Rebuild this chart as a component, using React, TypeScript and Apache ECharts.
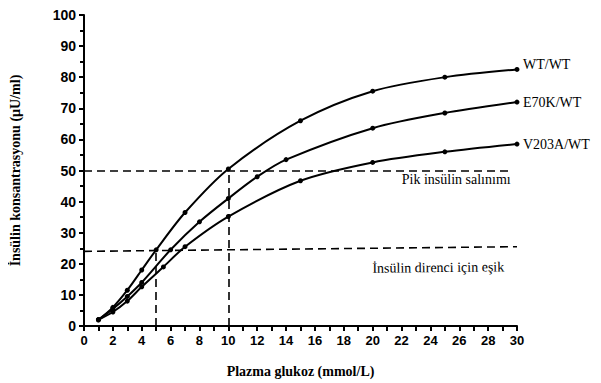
import React, { useEffect, useRef } from "react";
import * as echarts from "echarts";

const seriesNames = ["WT/WT", "E70K/WT", "V203A/WT"];
const wtX = [1, 2, 3, 4, 5, 7, 10, 15, 20, 25, 30];
const wtY = [2, 6, 11.5, 18, 24.5, 36.5, 50.5, 66, 75.5, 80, 82.5];
const e70X = [1, 2, 3, 4, 6, 8, 10, 12, 14, 20, 25, 30];
const e70Y = [2, 5.5, 9.5, 14, 24.5, 33.5, 41, 48, 53.5, 63.6, 68.5, 72];
const v203X = [1, 2, 3, 4, 5.5, 7, 10, 15, 20, 25, 30];
const v203Y = [2, 4.5, 8, 12.6, 19, 25.5, 35.2, 46.7, 52.6, 56, 58.5];

const peakLevel = 50;
const thresholdStart = 24;
const thresholdEnd = 25.5;
const peakGlucose = 10;
const thresholdGlucose = 5;
const xMax = 30;
const peakLabel = "Pik insülin salınımı";
const thresholdLabel = "İnsülin direnci için eşik";

const zip = (xs: number[], ys: number[]) => xs.map((x, i) => [x, ys[i]]);

export default function App() {
  const ref = useRef<HTMLDivElement>(null);
  useEffect(() => {
    if (!ref.current) return;
    const chart = echarts.init(ref.current, null, { renderer: "svg" });
    const serif = "'Liberation Serif', 'Times New Roman', serif";
    const sans = "'Liberation Sans', Arial, sans-serif";
    const datasets = [zip(wtX, wtY), zip(e70X, e70Y), zip(v203X, v203Y)];
    const endOffsets = [[0, -5], [0, 0], [0, 0]];
    const dash = { color: "#000", width: 1.6, type: [8, 5] as any };
    chart.setOption({
      animation: false,
      backgroundColor: "#fff",
      grid: { left: 82, right: 84, top: 15, bottom: 57 },
      xAxis: {
        type: "value",
        min: 0,
        max: xMax,
        interval: 2,
        name: "Plazma glukoz (mmol/L)",
        nameLocation: "middle",
        nameGap: 38,
        nameTextStyle: { fontFamily: serif, fontWeight: "bold", fontSize: 14, color: "#000" },
        axisLine: { lineStyle: { color: "#000", width: 2 } },
        axisTick: { show: true, length: 5, lineStyle: { color: "#000", width: 2 } },
        minorTick: { show: true, splitNumber: 2, length: 5, lineStyle: { color: "#000", width: 2 } },
        splitLine: { show: false },
        axisLabel: { fontFamily: sans, fontWeight: "bold", fontSize: 13, color: "#000", margin: 8 },
      },
      yAxis: {
        type: "value",
        min: 0,
        max: 100,
        interval: 10,
        name: "İnsülin konsantrasyonu (µU/ml)",
        nameLocation: "middle",
        nameGap: 62,
        nameTextStyle: { fontFamily: serif, fontWeight: "bold", fontSize: 14, color: "#000" },
        axisLine: { show: true, lineStyle: { color: "#000", width: 2 } },
        axisTick: { show: true, length: 5, lineStyle: { color: "#000", width: 2 } },
        minorTick: { show: true, splitNumber: 2, length: 4, lineStyle: { color: "#000", width: 2 } },
        splitLine: { show: false },
        axisLabel: { fontFamily: sans, fontWeight: "bold", fontSize: 14, color: "#000", margin: 8 },
      },
      series: [
        ...seriesNames.map((name, i) => ({
          name,
          type: "line",
          data: datasets[i],
          smooth: 0.3,
          symbol: "circle",
          symbolSize: 5,
          itemStyle: { color: "#000" },
          lineStyle: { color: "#000", width: 2 },
          endLabel: {
            show: true,
            formatter: "{a}",
            fontFamily: serif,
            fontSize: 14,
            color: "#000",
            distance: 6,
            offset: endOffsets[i],
          },
          z: 3,
        })),
        {
          name: "refs",
          type: "line",
          data: [],
          markLine: {
            silent: true,
            symbol: "none",
            lineStyle: dash,
            data: [
              [
                {
                  coord: [0, peakLevel],
                  label: {
                    show: true,
                    formatter: peakLabel,
                    position: "insideEndBottom",
                    distance: 2,
                    fontFamily: serif,
                    fontSize: 14,
                    color: "#000",
                  },
                },
                { coord: [xMax - 0.3, peakLevel] },
              ],
              [
                {
                  coord: [0, thresholdStart],
                  label: {
                    show: true,
                    formatter: thresholdLabel,
                    position: "insideEndBottom",
                    distance: 13,
                    fontFamily: serif,
                    fontSize: 14,
                    color: "#000",
                  },
                },
                { coord: [xMax, thresholdEnd] },
              ],
              [
                { coord: [thresholdGlucose, 0], label: { show: false } },
                { coord: [thresholdGlucose, thresholdStart + 0.5] },
              ],
              [
                { coord: [peakGlucose, 0], label: { show: false } },
                { coord: [peakGlucose, peakLevel] },
              ],
            ],
          },
        },
      ],
    });
    return () => chart.dispose();
  }, []);
  return <div ref={ref} style={{ width: 601, height: 383, marginLeft: -8, marginTop: -8 }} />;
}
